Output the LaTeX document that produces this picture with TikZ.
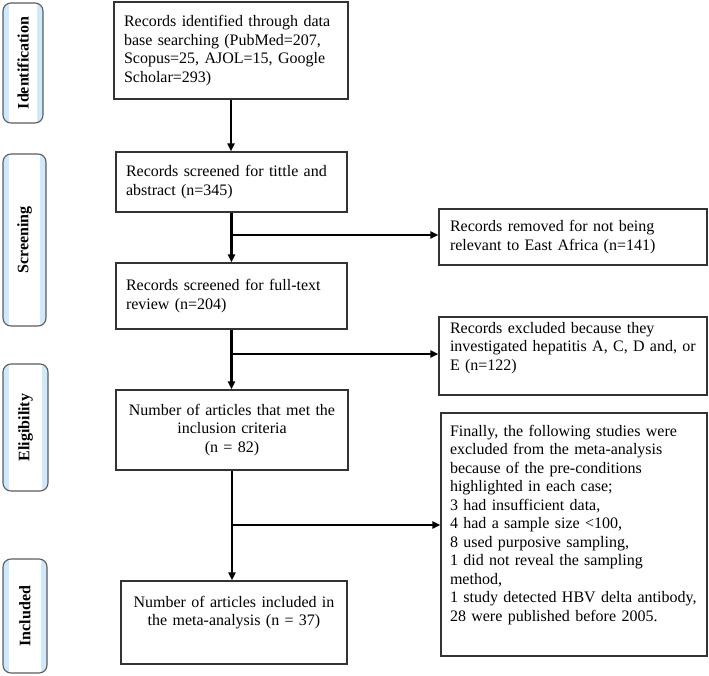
\documentclass[tikz,border=0pt]{standalone}
\usepackage{fontspec}
\setmainfont{Liberation Serif}
\usetikzlibrary{arrows.meta}
\definecolor{lblue}{HTML}{CDE9FB}
\definecolor{bord}{HTML}{333333}
\tikzset{
  stagebox/.style={draw=bord!80, line width=1.1pt, rounded corners=8pt, fill=lblue, rotate=90,
    inner sep=0pt, font=\fontsize{16}{18.5}\selectfont\bfseries,
    path picture={\fill[white] ([shift={(6pt,-6pt)}]path picture bounding box.north west) rectangle ([shift={(-6pt,6pt)}]path picture bounding box.south east);}},
  flowbox/.style={draw=bord, line width=1.3pt, inner xsep=10pt, inner ysep=0pt,
    font=\fontsize{16}{18.5}\selectfont},
  arr/.style={line width=2.2pt, -{Triangle[length=8pt,width=7pt]}}
}
\begin{document}
\begin{tikzpicture}[x=1pt,y=-1pt]
\useasboundingbox (0,0) rectangle (709,676);
% stage labels
\node[stagebox, minimum width=120pt, minimum height=40pt] (s1) at (23,63) {Identification};
\node[stagebox, minimum width=172pt, minimum height=43pt] (s2) at (24.5,240) {Screening};
\node[stagebox, minimum width=127pt, minimum height=45pt] (s3) at (25.5,427.5) {Eligibility};
\node[stagebox, minimum width=114pt, minimum height=44pt] (s4) at (25,616) {Included};
% main column
\node[flowbox, text width=214pt, minimum height=97pt, align=left] (b1) at (231,50.5)
  {Records identified through data\\base searching (PubMed=207,\\Scopus=25, AJOL=15, Google\\Scholar=293)};
\node[flowbox, text width=211pt, minimum height=60pt, align=left] (b2) at (231.5,182)
  {Records screened for tittle and\\abstract (n=345)};
\node[flowbox, text width=211pt, minimum height=66pt, align=left] (b3) at (231.5,296)
  {Records screened for full-text\\review (n=204)};
\node[flowbox, text width=212pt, minimum height=80pt, align=center] (b4) at (232,430)
  {Number of articles that met the\\inclusion criteria\\(n = 82)};
\node[flowbox, text width=206pt, minimum height=83pt, align=center] (b5) at (234,622.5)
  {Number of articles included in\\the meta-analysis (n = 37)\\[-1pt]\strut};
% right column
\node[flowbox, inner xsep=11pt, text width=246pt, minimum height=56pt, align=left] (r1) at (573,237)
  {Records removed for not being\\relevant to East Africa (n=141)};
\node[flowbox, inner xsep=11pt, text width=246pt, minimum height=78pt, align=left] (r2) at (573,356)
  {Records excluded because they\\investigated hepatitis A, C, D and, or\\E (n=122)\\[-4.5pt]\strut};
\node[flowbox, inner xsep=9pt, text width=248pt, minimum height=243pt, align=left] (r3) at (574,534.5)
  {Finally, the following studies were\\excluded from the meta-analysis\\because of the pre-conditions\\highlighted in each case;\\3 had insufficient data,\\4 had a sample size <100,\\8 used purposive sampling,\\1 did not reveal the sampling\\method,\\1 study detected HBV delta antibody,\\28 were published before 2005.\\[-1.5pt]\strut};
% connectors
\coordinate (j1) at (231.5,235);
\coordinate (j2) at (231.5,354);
\coordinate (j3) at (232,525);
\draw[arr] (b1.south) -- (b1.south |- b2.north);
\draw[arr] (b2.south) -- (b2.south |- b3.north);
\draw[arr] (b3.south) -- (b3.south |- b4.north);
\draw[arr] (b4.south) -- (b4.south |- b5.north);
\draw[arr] (j1) -- (j1 -| r1.west);
\draw[arr] (j2) -- (j2 -| r2.west);
\draw[arr] (j3) -- (j3 -| r3.west);
\end{tikzpicture}
\end{document}
